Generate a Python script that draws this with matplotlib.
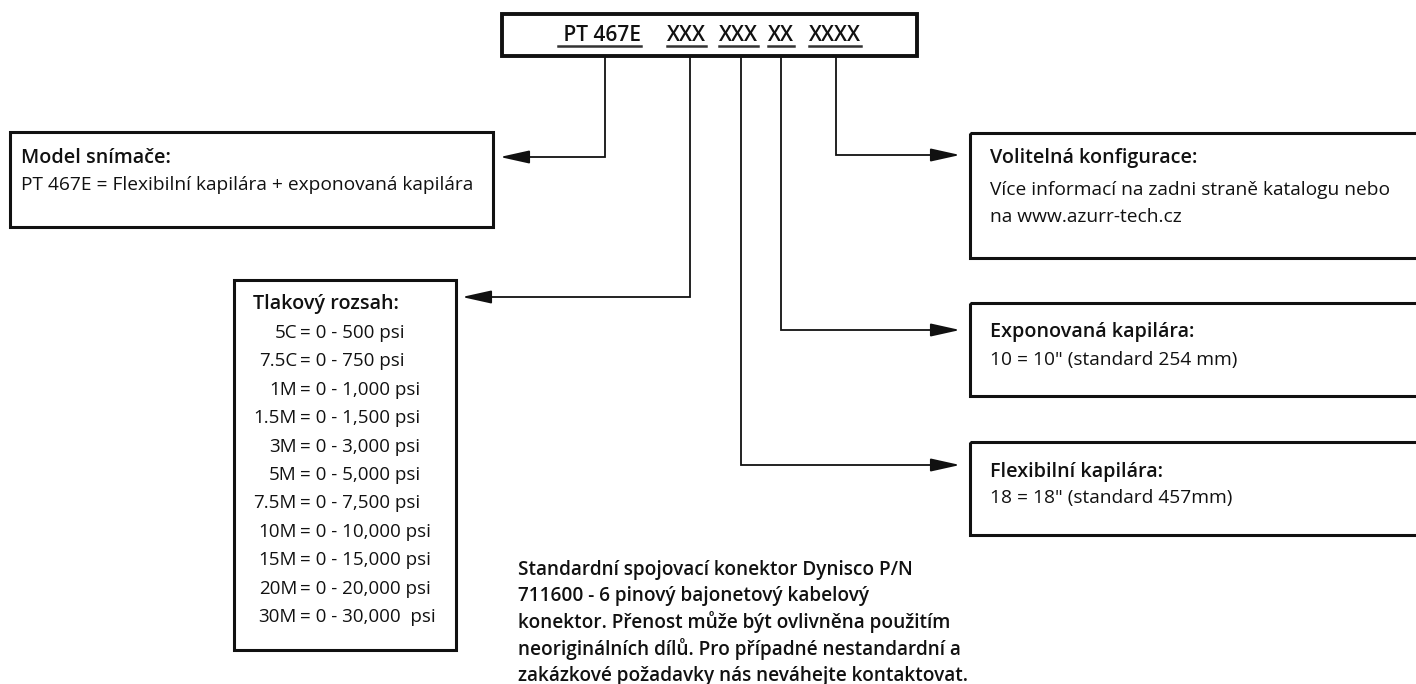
import matplotlib.pyplot as plt
from matplotlib.patches import Rectangle

plt.rcParams['font.family'] = ['Open Sans', 'DejaVu Sans']

# Order code parts in the header box
code_parts = [' PT 467E', 'XXX', 'XXX', 'XX', 'XXXX']

# Pressure range table
range_codes = ['5C', '7.5C', '1M', '1.5M', '3M', '5M', '7.5M', '10M', '15M', '20M', '30M']
range_values = ['0 - 500 psi', '0 - 750 psi', '0 - 1,000 psi', '0 - 1,500 psi', '0 - 3,000 psi',
                '0 - 5,000 psi', '0 - 7,500 psi', '0 - 10,000 psi', '0 - 15,000 psi',
                '0 - 20,000 psi', '0 - 30,000  psi']

model_title = 'Model snímače:'
model_text = 'PT 467E = Flexibilní kapilára + exponovaná kapilára'
range_title = 'Tlakový rozsah:'
option_title = 'Volitelná konfigurace:'
option_text = ['Více informací na zadni straně katalogu nebo', 'na www.azurr-tech.cz']
exposed_title = 'Exponovaná kapilára:'
exposed_text = '10 = 10" (standard 254 mm)'
flex_title = 'Flexibilní kapilára:'
flex_text = '18 = 18" (standard 457mm)'
note_lines = ['Standardní spojovací konektor Dynisco P/N',
              '711600 - 6 pinový bajonetový kabelový',
              'konektor. Přenost může být ovlivněna použitím',
              'neoriginálních dílů. Pro případné nestandardní a',
              'zakázkové požadavky nás neváhejte kontaktovat.']

INK = '#111111'
TITLE_FS = 14.2
BODY_FS = 13.8

fig = plt.figure(figsize=(14.16, 6.84), dpi=100)
ax = fig.add_axes([0, 0, 1, 1])
ax.set_xlim(0, 1416)
ax.set_ylim(684, 0)
ax.axis('off')


def box(x0, y0, x1, y1, lw=2.2):
    ax.add_patch(Rectangle((x0, y0), x1 - x0, y1 - y0, fill=False, ec=INK, lw=lw, clip_on=True))


def connector(x, y, x_tip):
    # vertical drop from the header box, then horizontal run with arrow head
    d = 1 if x_tip < x else -1
    ax.plot([x, x, x_tip + d * 10], [56, y, y], color=INK, lw=1.3, solid_joinstyle='miter')
    ax.annotate('', xy=(x_tip, y), xytext=(x_tip + d * 25, y),
                arrowprops=dict(arrowstyle='-|>,head_length=0.9,head_width=0.2',
                                mutation_scale=20, color=INK, lw=1.3, shrinkA=0, shrinkB=0))


def text(x, y, s, fs=BODY_FS, **kw):
    return ax.text(x, y, s, fontsize=fs, va='baseline', color=INK, **kw)


# header box
box(502, 14, 917, 56, lw=2.8)
part_x = [558, 667, 719, 768, 809]
texts = [text(px, 41, part, fs=15, fontweight='semibold') for px, part in zip(part_x, code_parts)]
fig.canvas.draw()
r = fig.canvas.get_renderer()
inv = ax.transData.inverted()
for t in texts:
    bb = t.get_window_extent(renderer=r)
    (x0, _), (x1, _) = inv.transform([(bb.x0, 0), (bb.x1, 0)])
    ax.plot([x0, x1], [45.5, 45.5], color='#333333', lw=1.8)

# connectors
connector(605, 157, 500)
connector(690, 297, 462)
connector(741, 465, 960)
connector(781, 330, 960)
connector(836, 155, 960)

# model box
box(10, 132, 493, 227)
text(21, 163, model_title, fs=TITLE_FS, fontweight='semibold')
text(21, 190, model_text)

# pressure range box
box(234, 280, 456, 650)
text(253, 309, range_title, fs=TITLE_FS, fontweight='semibold')
for i, (c, v) in enumerate(zip(range_codes, range_values)):
    y = 338 + i * 28.4
    text(297, y, c, fs=13.5, ha='right')
    text(300, y, '= ' + v, fs=13.5, ha='left')

# right-hand boxes
box(970, 133, 1430, 258)
text(990, 163, option_title, fs=TITLE_FS, fontweight='semibold')
for i, line in enumerate(option_text):
    text(990, 195 + i * 27, line)

box(970, 303, 1430, 396)
text(990, 337, exposed_title, fs=TITLE_FS, fontweight='semibold')
text(990, 365, exposed_text)

box(970, 442, 1430, 535)
text(990, 477, flex_title, fs=TITLE_FS, fontweight='semibold')
text(990, 503, flex_text)

# note paragraph
for i, line in enumerate(note_lines):
    text(518, 575 + i * 26.5, line, fs=13.7, fontweight='semibold')

fig.savefig('out.png', dpi=100, facecolor='white')
